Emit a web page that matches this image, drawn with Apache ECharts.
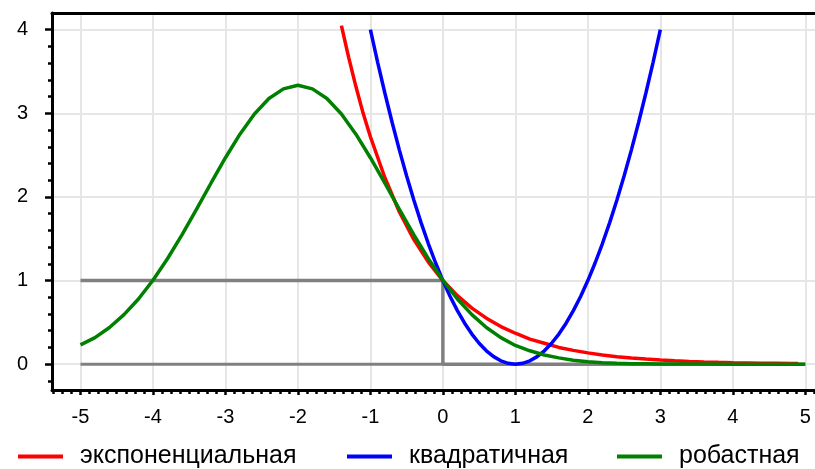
<!DOCTYPE html>
<html><head><meta charset="utf-8">
<script src="https://cdn.jsdelivr.net/npm/echarts@6/dist/echarts.min.js"></script>
<style>html,body{margin:0;padding:0;background:#fff}#c{width:815px;height:469px}</style>
</head><body><div id="c"></div>
<script>
const seriesNames = ['экспоненциальная', 'квадратичная', 'робастная'];
const expX = [-1.4,-1.3,-1.2,-1.1,-1.0,-0.8,-0.6,-0.4,-0.2,0,0.2,0.4,0.6,0.8,1.0,1.2,1.4,1.6,1.8,2.0,2.2,2.4,2.6,2.8,3.0,3.2,3.4,3.6,3.8,4.0,4.2,4.4,4.6,4.8,4.9];
const expY = [4.05,3.67,3.32,3.0,2.72,2.23,1.82,1.49,1.22,1.0,0.82,0.67,0.55,0.45,0.37,0.30,0.25,0.20,0.165,0.135,0.11,0.09,0.074,0.061,0.05,0.041,0.033,0.027,0.022,0.018,0.015,0.012,0.01,0.008,0.0074];
const quadX = [-1.0,-0.9,-0.8,-0.7,-0.6,-0.5,-0.4,-0.3,-0.2,-0.1,0,0.1,0.2,0.3,0.4,0.5,0.6,0.7,0.8,0.9,1.0,1.1,1.2,1.3,1.4,1.5,1.6,1.7,1.8,1.9,2.0,2.1,2.2,2.3,2.4,2.5,2.6,2.7,2.8,2.9,3.0];
const quadY = [4.0,3.61,3.24,2.89,2.56,2.25,1.96,1.69,1.44,1.21,1.0,0.81,0.64,0.49,0.36,0.25,0.16,0.09,0.04,0.01,0.0,0.01,0.04,0.09,0.16,0.25,0.36,0.49,0.64,0.81,1.0,1.21,1.44,1.69,1.96,2.25,2.56,2.89,3.24,3.61,4.0];
const robX = [-5.0,-4.8,-4.6,-4.4,-4.2,-4.0,-3.8,-3.6,-3.4,-3.2,-3.0,-2.8,-2.6,-2.4,-2.2,-2.0,-1.8,-1.6,-1.4,-1.2,-1.0,-0.8,-0.6,-0.4,-0.2,0,0.2,0.4,0.6,0.8,1.0,1.2,1.4,1.6,1.8,2.0,2.2,2.4,2.6,2.8,3.0,3.5,4.0,4.5,5.0];
const robY = [0.23,0.317,0.439,0.592,0.78,1.004,1.261,1.546,1.851,2.164,2.469,2.751,2.992,3.177,3.293,3.335,3.293,3.177,2.992,2.751,2.469,2.164,1.851,1.546,1.261,1.004,0.78,0.592,0.439,0.317,0.224,0.16,0.11,0.075,0.048,0.03,0.018,0.011,0.006,0.004,0.002,0.001,0.0,0.0,0.0];
const stepX = [-5, 0, 0, 5];
const stepY = [1, 1, 0, 0];
const baseX = [-5, 0];
const baseY = [0, 0];
const xTicks = [-5,-4,-3,-2,-1,0,1,2,3,4,5];
const yTicks = [0,1,2,3,4];

const zip = (a, b) => a.map((v, i) => [v, b[i]]);
const FONT = 'Liberation Sans, Arial, sans-serif';
const chart = echarts.init(document.getElementById('c'), null, {renderer: 'canvas'});
const lineSeries = (name, data, color, width, z) => ({
  name, type: 'line', data, symbol: 'none', smooth: false, z,
  lineStyle: {color, width}, itemStyle: {color}, emphasis: {disabled: true}, animation: false, silent: true
});
const legendItem = (name, left) => ({
  data: [name], left, top: 444, padding: 0, icon: 'rect', itemWidth: 45, itemHeight: 4,
  textStyle: {fontFamily: FONT, fontSize: 25, color: '#000', padding: [0, 0, 0, 12]},
  selectedMode: false
});
chart.setOption({
  animation: false,
  grid: {left: 52, right: -1, top: 13, bottom: 79, containLabel: false},
  xAxis: [{
    type: 'value', min: -5.393, max: 5.134, minInterval: 1, maxInterval: 1,
    axisLine: {show: true, onZero: false, lineStyle: {color: '#000', width: 3}},
    axisTick: {show: true, customValues: xTicks, length: 5, lineStyle: {color: '#000', width: 2.5}},
    minorTick: {show: true, splitNumber: 8, length: 4, lineStyle: {color: '#000', width: 2.5}},
    axisLabel: {customValues: xTicks, margin: 17, fontFamily: FONT, fontSize: 20, color: '#000'},
    splitLine: {show: true, lineStyle: {color: '#e6e6e6', width: 2}}
  }, {
    type: 'value', position: 'top', min: -5.393, max: 5.134,
    axisLine: {show: true, onZero: false, lineStyle: {color: '#000', width: 3}},
    axisTick: {show: false}, axisLabel: {show: false}, splitLine: {show: false}
  }],
  yAxis: [{
    type: 'value', min: -0.309, max: 4.2, minInterval: 1, maxInterval: 1,
    axisLine: {show: true, onZero: false, lineStyle: {color: '#000', width: 3}},
    axisTick: {show: true, customValues: yTicks, length: 7, lineStyle: {color: '#000', width: 2.5}},
    minorTick: {show: true, splitNumber: 5, length: 4, lineStyle: {color: '#000', width: 2.5}},
    axisLabel: {customValues: yTicks, margin: 24, fontFamily: FONT, fontSize: 20, color: '#000'},
    splitLine: {show: true, lineStyle: {color: '#e6e6e6', width: 2}}
  }],
  legend: [legendItem(seriesNames[0], 18), legendItem(seriesNames[1], 347), legendItem(seriesNames[2], 617)],
  series: [
    lineSeries('base', zip(baseX, baseY), '#808080', 3, 1),
    lineSeries('step', zip(stepX, stepY), '#808080', 3.5, 1),
    lineSeries(seriesNames[0], zip(expX, expY), '#ff0000', 3.5, 3),
    lineSeries(seriesNames[1], zip(quadX, quadY), '#0000ff', 3.5, 3),
    lineSeries(seriesNames[2], zip(robX, robY), '#008000', 3.5, 3)
  ]
});
</script></body></html>
